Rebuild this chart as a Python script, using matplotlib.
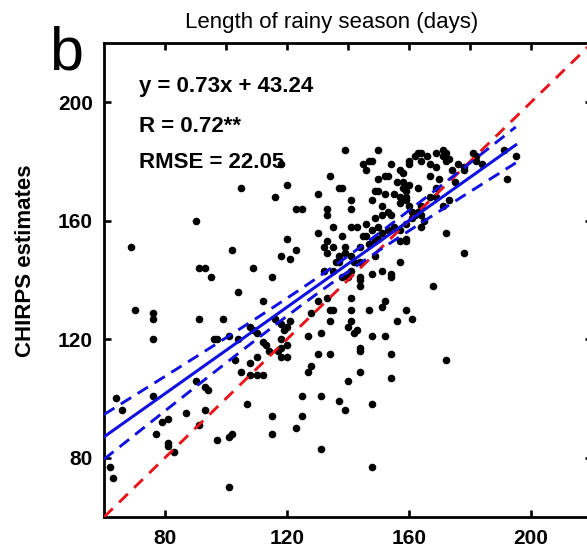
import numpy as np
import matplotlib
matplotlib.use("Agg")
import matplotlib.pyplot as plt
from matplotlib.ticker import FixedLocator

plt.rcParams['font.family'] = ['Liberation Sans', 'DejaVu Sans']

# observed (x) vs CHIRPS estimates (y), length of rainy season in days
obs_x = [118, 105, 120, 116, 90, 123, 69, 102, 120, 123, 118, 121, 91, 93, 95, 109, 115, 104, 112, 70,
         76, 76, 91, 99, 134, 130, 137, 125, 133, 133, 135, 130, 132, 133, 135, 133, 136, 130, 128, 134,
         135,
         139, 150, 138, 141, 141, 138, 141, 143, 146, 145, 146, 148, 150, 147, 149, 150, 151, 153, 144,
         139, 139, 137, 137, 141, 149, 142, 144, 135, 132, 138, 140, 141, 144, 144, 144, 148, 151, 154,
         154, 157, 159, 159, 157, 155, 149, 151, 153, 154, 151, 148, 149, 150, 152, 155, 157, 150, 152,
         153, 145, 147, 148, 146, 154, 157, 158, 156, 158, 160, 158, 159, 159, 157, 159, 160, 161, 162,
         163, 160, 160, 162, 163, 164, 166, 164, 167, 169, 167, 170, 164, 163, 164, 165, 164, 161, 159,
         157, 169, 169, 167, 171, 172, 171, 173, 172, 169, 174, 176, 178, 178, 175, 173, 171, 172, 178,
         168, 181, 182, 182, 184, 191, 195, 192, 133, 141, 141, 147, 151, 152, 159, 161,
         76, 96, 97, 101, 104, 108, 109, 110, 112, 113, 116, 118, 121, 120, 119, 118, 120, 118, 114, 117,
         118, 120, 103, 108, 110, 105, 108, 110, 112, 90, 93, 94, 76, 64, 66, 93, 87, 107, 79, 81,
         91, 77, 81, 81, 83, 97, 101, 102, 101, 115, 115, 123, 125, 125, 131, 131, 137, 127, 131, 128,
         127, 130, 134, 134, 62, 63,
         141, 140, 142, 143, 156, 148, 152, 144, 144, 154, 144, 140, 154, 172, 139, 148, 148]
chirps_y = [179, 171, 172, 168, 160, 164, 151, 150, 154, 150, 148, 147, 144, 144, 141, 144, 141, 136, 133, 130,
            129, 127, 127, 127, 175, 169, 171, 164, 164, 162, 158, 156, 151, 153, 151, 149, 146, 133, 129, 130,
            130,
            184, 184, 171, 167, 164, 155, 158, 158, 159, 155, 155, 157, 158, 152, 153, 154, 156, 157, 151,
            151, 149, 148, 146, 148, 148, 146, 146, 143, 143, 141, 141, 143, 141, 140, 138, 142, 143, 142,
            141, 146, 154, 153, 153, 158, 161, 162, 163, 162, 165, 167, 170, 170, 169, 169, 168, 174, 175,
            175, 179, 180, 180, 177, 179, 177, 176, 173, 173, 172, 171, 170, 168, 166, 167, 165, 163, 162,
            171, 180, 179, 182, 183, 183, 182, 180, 179, 178, 175, 174, 165, 163, 162, 160, 158, 161, 159,
            157, 171, 168, 168, 184, 183, 182, 181, 180, 183, 177, 179, 178, 177, 173, 167, 165, 156, 149,
            138, 183, 182, 180, 179, 184, 182, 174, 134, 134, 130, 130, 131, 133, 130, 127,
            120, 120, 120, 121, 120, 124, 123, 122, 119, 118, 127, 125, 126, 124, 123, 120, 118, 117, 116, 116,
            114, 114, 113, 112, 114, 109, 108, 108, 108, 106, 104, 103, 101, 100, 96, 96, 95, 98, 92, 93,
            91, 88, 85, 84, 82, 86, 87, 88, 70, 94, 88, 90, 101, 94, 101, 83, 99, 121, 122, 111,
            109, 115, 115, 126, 77, 73,
            126, 124, 122, 123, 126, 121, 121, 117, 116, 115, 109, 106, 107, 113, 96, 98, 77]

slope, intercept = 0.73, 43.24
fit_range = [60, 195]
title = "Length of rainy season (days)"
ylabel = "CHIRPS estimates"
stats_lines = ["y = 0.73x + 43.24", "R = 0.72**", "RMSE = 22.05"]
major_ticks = [80, 120, 160, 200]
top_ticks = [80, 100, 120, 140, 160, 180, 200, 220]

x = np.array(obs_x, dtype=float)
y = np.array(chirps_y, dtype=float)

# regression line and 95% confidence band of the mean
xf = np.linspace(fit_range[0], fit_range[1], 200)
yf = slope * xf + intercept
res = y - (slope * x + intercept)
n = len(x)
s = np.sqrt(np.sum(res ** 2) / (n - 2))
sxx = np.sum((x - x.mean()) ** 2)
band = 1.97 * s * np.sqrt(1.0 / n + (xf - x.mean()) ** 2 / sxx)

W, H = 587, 555
fig = plt.figure(figsize=(W / 100, H / 100), dpi=100)
ax = fig.add_axes([104 / W, 1 - 517 / H, 488 / W, 474 / H])

ax.scatter(x, y, s=30, color='black', zorder=2, linewidths=0)
ax.plot([60, 220], [60, 220], color='#e8141b', lw=2.1, dashes=(4.2, 3.0), zorder=3)
ax.plot(xf, yf, color='#1010e0', lw=2.2, zorder=4)
ax.plot(xf, yf + band, color='#1010e0', lw=2.1, dashes=(4.2, 2.6), zorder=4)
ax.plot(xf, yf - band, color='#1010e0', lw=2.1, dashes=(4.2, 2.6), zorder=4)

ax.set_xlim(60, 220)
ax.set_ylim(60, 220)
ax.set_xticks(major_ticks)
ax.set_yticks(major_ticks)
ax.xaxis.set_minor_locator(FixedLocator([t for t in top_ticks if t not in major_ticks]))
ax.tick_params(which='both', direction='in', length=5, width=1.9,
               top=True, right=True, labelsize=15)
ax.tick_params(which='minor', bottom=False, top=True, left=False, right=False)
ax.tick_params(axis='x', pad=9)
ax.tick_params(axis='y', pad=8)
for lab in ax.get_xticklabels() + ax.get_yticklabels():
    lab.set_fontweight('bold')
for sp in ax.spines.values():
    sp.set_linewidth(2.0)

fig.text(15 / W, 1 - 261 / H, ylabel, rotation=90, fontsize=16, fontweight='bold',
         ha='left', va='center')
fig.text(332 / W, 1 - 28 / H, title, fontsize=16, ha='center', va='baseline')
fig.text(49 / W, 1 - 70 / H, "b", fontsize=44, ha='left', va='baseline')

for txt, base in zip(stats_lines, [92, 132, 168]):
    fig.text(139 / W, 1 - base / H, txt, fontsize=16, fontweight='bold',
             ha='left', va='baseline')

fig.savefig("out.png", dpi=100)
